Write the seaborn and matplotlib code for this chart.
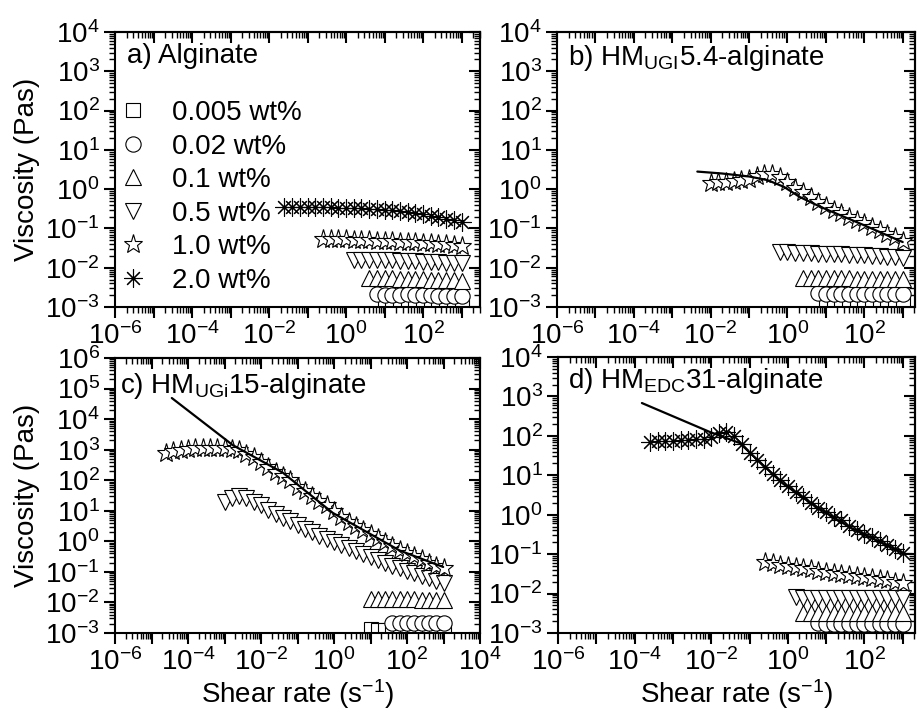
import numpy as np
import matplotlib
matplotlib.use('Agg')
import matplotlib.pyplot as plt
import seaborn as sns
from matplotlib.lines import Line2D
from matplotlib.ticker import FixedLocator, FuncFormatter, LogLocator, NullFormatter

sns.set_style('ticks')
plt.rcParams['font.family'] = ['Liberation Sans', 'DejaVu Sans']
plt.rcParams['mathtext.fontset'] = 'custom'
plt.rcParams['mathtext.rm'] = 'Liberation Sans'
plt.rcParams['mathtext.it'] = 'Liberation Sans:italic'
plt.rcParams['mathtext.bf'] = 'Liberation Sans:bold'
plt.rcParams['axes.unicode_minus'] = False
plt.rcParams['axes.linewidth'] = 1.5
for key in ('text.color', 'axes.labelcolor', 'axes.edgecolor', 'xtick.color', 'ytick.color'):
    plt.rcParams[key] = 'black'

# shear-rate sweep shared by all measurements (s^-1); every series ends at 1000
RATES = [1.0e-5, 1.6e-5, 2.5e-5, 4.0e-5, 6.3e-5,
         1.0e-4, 1.6e-4, 2.5e-4, 4.0e-4, 6.3e-4,
         1.0e-3, 1.6e-3, 2.5e-3, 4.0e-3, 6.3e-3,
         1.0e-2, 1.6e-2, 2.5e-2, 4.0e-2, 6.3e-2,
         0.10, 0.16, 0.25, 0.40, 0.63,
         1.0, 1.6, 2.5, 4.0, 6.3,
         10, 16, 25, 40, 63,
         100, 160, 250, 400, 630, 1000]

CONCS = ['0.005 wt%', '0.02 wt%', '0.1 wt%', '0.5 wt%', '1.0 wt%', '2.0 wt%']

# a) Alginate
a_visc = {
    '0.005 wt%': [0.00125, 0.0012, 0.0012, 0.00125, 0.0012, 0.0012, 0.00118, 0.0012, 0.0012, 0.00122, 0.0012],
    '0.02 wt%': [0.0021, 0.002, 0.002, 0.002, 0.0021, 0.002, 0.002, 0.002, 0.0019, 0.0019, 0.0019, 0.0019],
    '0.1 wt%': [0.0056, 0.0055, 0.0055, 0.0054, 0.0053, 0.0053, 0.0052, 0.0051, 0.005, 0.005, 0.0049, 0.0048, 0.0047],
    '0.5 wt%': [0.016, 0.016, 0.016, 0.0158, 0.0155, 0.0153, 0.015, 0.0148, 0.0145, 0.0143, 0.014, 0.0138, 0.0135, 0.0132, 0.013],
    '1.0 wt%': [0.055, 0.054, 0.054, 0.053, 0.052, 0.051, 0.05, 0.049, 0.048, 0.047, 0.046, 0.045, 0.044,
                0.043, 0.042, 0.04, 0.039, 0.037, 0.036],
    '2.0 wt%': [0.36, 0.36, 0.35, 0.35, 0.35, 0.35, 0.35, 0.34, 0.34, 0.33, 0.33, 0.32, 0.31,
                0.30, 0.29, 0.28, 0.26, 0.25, 0.23, 0.21, 0.19, 0.175, 0.16, 0.15],
}

# b) HM_UGI 5.4-alginate
b_visc = {
    '0.005 wt%': [0.00125, 0.0012, 0.00125, 0.0012, 0.0012, 0.00125, 0.0012, 0.0012, 0.00125, 0.0012, 0.0012],
    '0.02 wt%': [0.0023, 0.0022, 0.0022, 0.0022, 0.0022, 0.0021, 0.0022, 0.0022, 0.0021, 0.0021, 0.0021, 0.0021],
    '0.1 wt%': [0.0056, 0.0055, 0.0055, 0.0055, 0.0054, 0.0054, 0.0054, 0.0053, 0.0053, 0.0053, 0.0052,
                0.0052, 0.0052, 0.0051],
    '0.5 wt%': [0.025, 0.025, 0.024, 0.024, 0.024, 0.023, 0.023, 0.022, 0.022, 0.021, 0.021, 0.021,
                0.02, 0.02, 0.019, 0.019, 0.018],
    '1.0 wt%': [1.45, 1.5, 1.55, 1.6, 1.7, 1.8, 2.1, 2.5, 2.4, 2.0, 1.5, 1.1, 0.85, 0.62, 0.47, 0.37,
                0.29, 0.24, 0.2, 0.165, 0.135, 0.11, 0.09, 0.074, 0.06, 0.048],
}
b_fit_rate = [0.0045, 0.02, 0.1, 0.3, 0.8, 2.1, 5, 10.7, 40, 100, 1000]
b_fit_visc = [2.8, 2.5, 2.1, 1.7, 1.15, 0.63, 0.42, 0.3, 0.175, 0.12, 0.045]

# c) HM_UGi 15-alginate
c_visc = {
    '0.005 wt%': [0.0014, 0.0013, 0.0013, 0.0013, 0.0013, 0.0013, 0.0013, 0.0013, 0.0013, 0.0013, 0.0013],
    '0.02 wt%': [0.0021, 0.0021, 0.0021, 0.0021, 0.0021, 0.0021, 0.0021, 0.0021],
    '0.1 wt%': [0.013, 0.013, 0.013, 0.0128, 0.0127, 0.0126, 0.0125, 0.0124, 0.0122, 0.0121, 0.012],
    '0.5 wt%': [19, 26, 30, 27, 20, 15, 10.5, 8, 6, 4.5, 3.4, 2.6, 2.0, 1.55, 1.2, 0.95, 0.75, 0.6,
                0.48, 0.38, 0.3, 0.24, 0.2, 0.16, 0.135, 0.11, 0.09, 0.075, 0.062, 0.052, 0.044],
    '1.0 wt%': [770, 900, 1000, 1050, 1100, 1150, 1150, 1100, 1100, 1050, 950, 720, 560, 400, 270,
                190, 140, 100, 62, 43, 30, 21, 15, 9.5, 6.3, 4.3, 3.2, 2.3, 1.7, 1.25, 0.95, 0.72,
                0.53, 0.42, 0.33, 0.26, 0.2, 0.16, 0.13],
}
c_fit_rate = [3.6e-5, 1.7e-3, 0.04, 0.93, 63, 980]
c_fit_visc = [4.9e4, 1400, 175, 8.5, 0.5, 0.145]

# d) HM_EDC 31-alginate
d_visc = {
    '0.02 wt%': [0.0018, 0.0017, 0.0017, 0.0017, 0.0017, 0.0017, 0.0017, 0.0017, 0.0017, 0.0017, 0.0017, 0.0017],
    '0.1 wt%': [0.0032, 0.0032, 0.0032, 0.0032, 0.0032, 0.0032, 0.0032, 0.0032, 0.0032, 0.0032, 0.0032,
                0.0032, 0.0032, 0.0032],
    '0.5 wt%': [0.008, 0.0079, 0.0078, 0.0078, 0.0078, 0.0078, 0.0078, 0.0077, 0.0077, 0.0077, 0.0077,
                0.0077, 0.0076, 0.0076, 0.0076],
    '1.0 wt%': [0.063, 0.058, 0.054, 0.05, 0.047, 0.044, 0.041, 0.038, 0.036, 0.034, 0.032, 0.03,
                0.028, 0.026, 0.025, 0.023, 0.022, 0.02, 0.019],
    '2.0 wt%': [70, 72, 75, 75, 78, 80, 82, 85, 95, 115, 125, 100, 62, 36, 24, 16, 11, 7.5, 5.2, 3.8,
                2.8, 2.0, 1.5, 1.15, 0.9, 0.72, 0.52, 0.42, 0.33, 0.27, 0.21, 0.17, 0.135, 0.11],
}
d_fit_rate = [1.55e-4, 9.1e-3, 0.055, 0.72, 5.5, 40, 1000]
d_fit_visc = [680, 126, 66, 6.3, 1.6, 0.49, 0.107]

MARKERS = {'0.005 wt%': ('s', 9.5), '0.02 wt%': ('o', 11), '0.1 wt%': ('^', 12),
           '0.5 wt%': ('v', 12), '1.0 wt%': ('*', 14), '2.0 wt%': ((8, 2, 0), 13)}


def exp_label(step):
    def fmt(v, pos):
        e = int(round(np.log10(v)))
        if e % step:
            return ''
        return r'$\mathregular{10^{%d}}$' % e
    return FuncFormatter(fmt)


def minor_loc():
    return LogLocator(base=10, subs=np.arange(2, 10) * 1.0, numticks=200)


def style_axes(ax, ymin, ymax, xmax):
    ax.set_xscale('log')
    ax.set_yscale('log')
    ax.set_xlim(1e-6, xmax)
    ax.set_ylim(ymin, ymax)
    xt = 10.0 ** np.arange(-6, 5)
    yt = 10.0 ** np.arange(np.log10(ymin), np.log10(ymax) + 1)
    ax.xaxis.set_major_locator(FixedLocator(xt))
    ax.xaxis.set_major_formatter(exp_label(2))
    ax.yaxis.set_major_locator(FixedLocator(yt))
    ax.yaxis.set_major_formatter(exp_label(1))
    ax.xaxis.set_minor_locator(minor_loc())
    ax.yaxis.set_minor_locator(minor_loc())
    ax.xaxis.set_minor_formatter(NullFormatter())
    ax.yaxis.set_minor_formatter(NullFormatter())
    ax.tick_params(which='both', direction='out', top=False, right=False, labelsize=20, pad=3)
    ax.tick_params(which='major', length=8, width=1.5)
    ax.tick_params(which='minor', length=4.5, width=1.0)
    for sp in ax.spines.values():
        sp.set_linewidth(1.5)
        sp.set_visible(True)

    top = ax.secondary_xaxis('top')
    top.xaxis.set_major_locator(FixedLocator(xt))
    top.xaxis.set_minor_locator(minor_loc())
    top.tick_params(which='both', direction='in', labeltop=False)
    top.tick_params(which='major', length=8, width=1.5)
    top.tick_params(which='minor', length=4.5, width=1.0)
    top.spines['top'].set_linewidth(1.5)

    right = ax.secondary_yaxis('right')
    right.yaxis.set_major_locator(FixedLocator(yt))
    right.yaxis.set_minor_locator(minor_loc())
    right.tick_params(which='both', direction='in', labelright=False)
    right.tick_params(which='major', length=8, width=1.5)
    right.tick_params(which='minor', length=4.5, width=1.0)
    right.spines['right'].set_linewidth(1.5)


def draw_series(ax, visc):
    for conc in CONCS:
        if conc not in visc:
            continue
        y = visc[conc]
        x = RATES[len(RATES) - len(y):]
        m, ms = MARKERS[conc]
        sns.lineplot(x=x, y=y, ax=ax, marker=m, linestyle='none', markersize=ms,
                     markerfacecolor='white', markeredgecolor='black', markeredgewidth=0.8,
                     color='black', estimator=None, sort=False, legend=False)


def draw_fit(ax, x, y):
    sns.lineplot(x=x, y=y, ax=ax, color='black', linewidth=1.6, estimator=None,
                 sort=False, legend=False, zorder=5)


fig = plt.figure(figsize=(9.17, 7.13), dpi=100)
W, H = 917.0, 713.0
ax_a = fig.add_axes([115 / W, (H - 307) / H, 365 / W, 275 / H])
ax_b = fig.add_axes([557 / W, (H - 307) / H, 358 / W, 275 / H])
ax_c = fig.add_axes([115 / W, (H - 633) / H, 365 / W, 275 / H])
ax_d = fig.add_axes([558 / W, (H - 633) / H, 357 / W, 276 / H])

draw_series(ax_a, a_visc)
draw_series(ax_b, b_visc)
draw_fit(ax_b, b_fit_rate, b_fit_visc)
draw_series(ax_c, c_visc)
draw_fit(ax_c, c_fit_rate, c_fit_visc)
draw_series(ax_d, d_visc)
draw_fit(ax_d, d_fit_rate, d_fit_visc)

style_axes(ax_a, 1e-3, 1e4, 10 ** 3.48)
style_axes(ax_b, 1e-3, 1e4, 10 ** 3.32)
style_axes(ax_c, 1e-3, 1e6, 1e4)
style_axes(ax_d, 1e-3, 1e4, 10 ** 3.32)

for ax in (ax_a, ax_b, ax_c, ax_d):
    ax.set_xlabel('')
    ax.set_ylabel('')

ax_a.set_ylabel('Viscosity (Pas)', fontsize=20, labelpad=4)
ax_c.set_ylabel('Viscosity (Pas)', fontsize=20, labelpad=4)
ax_c.set_xlabel('Shear rate (s$^{-1}$)', fontsize=20, labelpad=1)
ax_d.set_xlabel('Shear rate (s$^{-1}$)', fontsize=20, labelpad=1)

ax_a.text(0.033, 0.887, 'a) Alginate', transform=ax_a.transAxes, fontsize=20, va='baseline')
ax_b.text(0.031, 0.88, r'b) HM$_\mathregular{UGI}$5.4-alginate', transform=ax_b.transAxes,
          fontsize=20, va='baseline')
ax_c.text(0.014, 0.873, r'c) HM$_\mathregular{UGi}$15-alginate', transform=ax_c.transAxes,
          fontsize=20, va='baseline')
ax_d.text(0.028, 0.887, r'd) HM$_\mathregular{EDC}$31-alginate', transform=ax_d.transAxes,
          fontsize=20, va='baseline')

handles = [Line2D([], [], linestyle='none', marker=MARKERS[c][0], markersize=MARKERS[c][1],
                  markerfacecolor='white', markeredgecolor='black', markeredgewidth=0.8)
           for c in CONCS]
ax_a.legend(handles, CONCS, loc='upper left', bbox_to_anchor=(0.011, 0.752), frameon=False,
            fontsize=20, handlelength=1.0, handletextpad=0.9, labelspacing=0.27,
            borderpad=0, borderaxespad=0)

fig.savefig('out.png', dpi=100)
